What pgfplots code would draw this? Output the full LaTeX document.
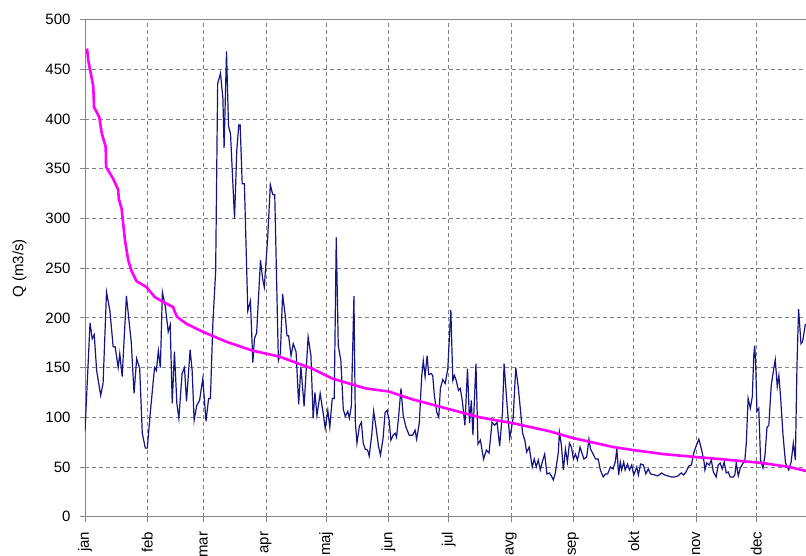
\documentclass[border=0pt]{standalone}
\usepackage{pgfplots}
\pgfplotsset{compat=1.18}
\usepackage{fontspec}
\setmainfont{Liberation Sans}
\definecolor{flowblue}{RGB}{20,20,130}
\definecolor{dur}{RGB}{255,0,255}
\definecolor{gridgray}{RGB}{128,128,128}
\definecolor{axgray}{RGB}{134,134,134}
\begin{document}
\begin{tikzpicture}
\begin{axis}[
  scale only axis,
  width=721pt, height=497pt,
  xmin=0, xmax=358.7, ymin=0, ymax=500,
  axis x line*=box, axis y line*=left,
  axis line style={axgray, line width=0.9pt},
  xtick={0,31,59,90,120,151,181,212,243,273,304,334},
  xticklabels={jan,feb,mar,apr,maj,jun,jul,avg,sep,okt,nov,dec},
  xtick pos=bottom, ytick pos=left,
  ytick={0,50,...,500},
  tick align=outside, major tick length=5pt,
  tick style={axgray, line width=0.8pt},
  grid=major,
  major grid style={gridgray, dashed, dash pattern=on 4pt off 3pt, line width=0.8pt},
  xticklabel style={rotate=90, anchor=east, inner sep=1pt, xshift=-8.8pt, font=\fontsize{15}{18}\selectfont},
  yticklabel style={font=\fontsize{15}{18}\selectfont, xshift=-6pt},
  /pgf/number format/assume math mode=true,
  ylabel={Q (m3/s)},
  every axis y label/.style={at={(rel axis cs:0,0.5)}, anchor=center, rotate=90, yshift=65.5pt, font=\fontsize{15}{18}\selectfont},
]
\coordinate (sw) at (rel axis cs:0,0);
\coordinate (ne) at (rel axis cs:1,1);
\addplot[flowblue, line width=1.2pt] coordinates {
(0,86) (2.5,195) (3.6,179) (4.6,183) (5.8,147) (7.8,122) (9,134) (10.7,226) (12.4,207) (14,171) (15,171) (16.5,150) (17.3,164) (18.5,141) (20.6,222) (23,176) (24.4,124) (25.7,159) (27.2,149) (28.5,84) (30,69) (31,69) (32.5,105) (34.6,150) (35.5,147) (36.5,167) (37.5,150) (38.5,226) (40,211) (41.4,186) (42.4,193) (43.4,114) (44.5,166) (45.7,114) (46.7,99) (48.3,144) (49.5,150) (50.5,116) (52.3,168) (53.3,147) (54.3,97) (55.6,112) (57,117) (58.6,139) (60.2,96) (61.5,119) (62.4,119) (63.6,194) (65,247) (66,436) (67.4,446) (68.6,421) (69.2,371) (70.4,468) (71.4,393) (72.4,385) (73.5,338) (74.4,300) (75.5,368) (76.5,394) (77.2,394) (78.2,335) (79.3,335) (81,207) (82.3,217) (83.5,155) (84.3,179) (85.4,185) (87.3,258) (88.4,239) (89.2,231) (90.9,281) (92.2,334) (93.4,324) (94.4,324) (96.2,157) (97.2,164) (98.3,224) (99.7,201) (100.5,182) (101.3,182) (102.5,162) (103.6,174) (105,166) (106.3,113) (107.4,151) (109,111) (111,181) (112.4,162) (113.5,99) (114.4,125) (115.4,102) (117,124) (118.5,104) (119.5,89) (120.8,107) (121.8,90) (123,119) (124,119) (125,281) (126,172) (127.3,157) (128.5,108) (129.5,101) (130.7,106) (131.5,99) (132.5,111) (133.8,222) (134.5,95) (135.3,74) (136.5,91) (137.5,95) (138.4,74) (139.4,68) (140.6,67) (141.4,61) (142.7,83) (143.6,106) (144.7,91) (146,71) (147,62) (148.3,79) (149.3,105) (150.3,107) (151.3,97) (152.2,77) (153.3,82) (154.3,84) (155,80) (156,100) (157.2,129) (158.3,102) (159.7,90) (161.3,82) (163,82) (164.2,87) (165,78) (166.3,94) (167.5,141) (168.3,157) (169.2,141) (170.2,162) (171,143) (172.2,144) (173,142) (173.8,122) (175,105) (176,100) (176.8,129) (178,138) (179.2,134) (180.5,149) (181.3,181) (182,208) (183,137) (183.8,142) (184.7,137) (185.8,127) (186.7,129) (187.7,117) (189,92) (190.3,149) (191.3,94) (192.2,117) (193,82) (194.5,154) (195.5,73) (196.7,77) (198.3,58) (199.7,67) (201,64) (202.5,95) (203.8,92) (205,95) (206.3,71) (207.7,105) (208.5,154) (209.7,120) (211.3,79) (213,99) (214.3,150) (215.5,131) (216.8,104) (217.7,84) (218.8,77) (219.7,65) (221,70) (222.5,50) (223.5,58) (224.5,50) (225.5,57) (226.5,47) (227.5,55) (228.7,63) (229.8,43) (231,44) (232,41) (233,37) (234,44) (235.5,65) (236,85) (237,72) (238,47) (239,68) (240,55) (241,74) (242,70) (243,58) (244,63) (245,57) (246.3,70) (247.4,63) (248.2,58) (249.6,60) (250.7,78) (251.5,68) (252.8,63) (254,58) (255.3,58) (256.4,47) (257.8,40) (258.9,43) (260,43) (261.4,50) (262.7,48) (263.8,55) (264.6,68) (265.5,42) (266.3,55) (267,47) (268,55) (268.7,47) (269.9,53) (270.9,47) (272,52) (273,42) (274.5,50) (275.3,42) (276.4,53) (277.8,52) (279,43) (280.2,48) (281.4,43) (283.4,42) (285,41) (286.8,44) (288.4,42) (290,41) (291.7,40) (293.3,40) (295,41) (296.6,44) (297.8,42) (299,45) (300.4,51) (301.7,52) (302.7,63) (304,71) (305.4,78) (306.8,67) (308,55) (308.4,47) (309.3,54) (310.6,52) (311.6,57) (312.6,45) (314,40) (315,52) (316,54) (317,48) (318,55) (319,44) (320,45) (321,40) (322.5,40) (323.3,42) (324,54) (325,41) (326,49) (327.4,54) (328.2,55) (329,74) (329.9,119) (331,109) (332,121) (332.7,162) (333.2,172) (333.7,151) (334.3,106) (335.2,109) (336.1,57) (337.3,49) (338.3,62) (339.3,90) (340.2,92) (341.4,132) (342.5,147) (343.4,158) (344.4,131) (345.2,142) (346,122) (347.2,84) (348.5,54) (350.1,47) (351.3,55) (352.4,74) (353.4,57) (354.2,151) (355,209) (356.2,174) (357,176) (358.4,194)
};
\addplot[dur, line width=2.6pt] coordinates {
(1,471) (1.6,459) (3,445) (4.1,433) (4.5,412) (7.1,402) (8.3,386) (10.3,372) (10.5,352) (14,340) (16.5,329) (16.8,320) (18.2,310) (19.9,278) (21.5,258) (23.2,247) (25.6,237) (30.6,231) (34.7,221) (38.9,216) (43.8,211) (44.7,206) (45.8,201) (50.5,194) (58.7,186) (70.3,176) (83.5,167) (96.8,161) (113,149) (123,139) (139.7,129) (151,126) (163,118) (179.7,109) (196.3,100) (213,94) (231,86) (243,79) (263,70) (273,67) (287.6,63) (304,60) (316,58) (337,54) (350.5,50) (358.7,46)
};
\end{axis}
\pgfresetboundingbox
\path[use as bounding box] ([xshift=-85pt,yshift=-39.3pt]sw) rectangle ([yshift=19.7pt]ne);
\end{tikzpicture}
\end{document}
